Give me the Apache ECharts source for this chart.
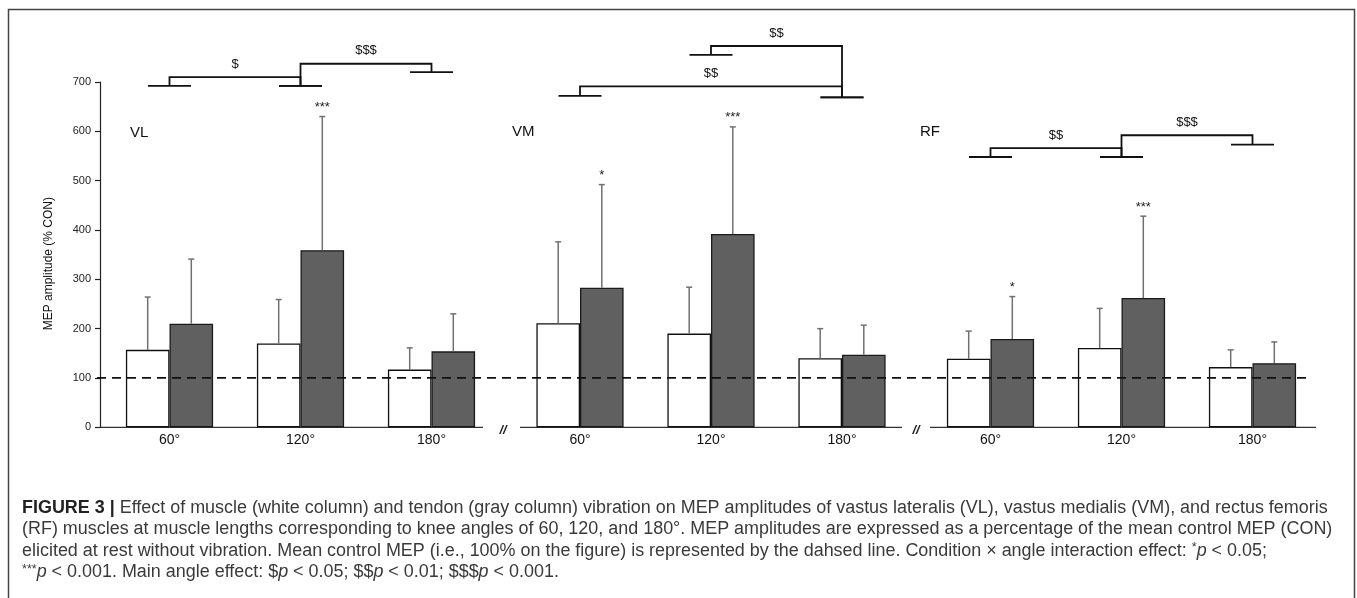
<!DOCTYPE html>
<html><head><meta charset="utf-8">
<script src="https://cdn.jsdelivr.net/npm/echarts@6/dist/echarts.min.js"></script>
<style>html,body{margin:0;padding:0;background:#fff}#c{width:1357px;height:598px}</style>
</head><body><div id="c"></div>
<script>
// ---------------- data ----------------
const categories = ['60°', '120°', '180°'];
const muscles = ['VL', 'VM', 'RF'];
const yTicksMax = 700;
const yTickStep = 100;
const controlLevel = 100;

// white column = muscle vibration, gray column = tendon vibration (mean, SD)
const vlMuscleMean = [157, 170, 117];
const vlMuscleSD   = [107, 89, 44];
const vlTendonMean = [210, 359, 154];
const vlTendonSD   = [131, 271, 76];

const vmMuscleMean = [211, 190, 140];
const vmMuscleSD   = [165, 94, 60];
const vmTendonMean = [283, 392, 147];
const vmTendonSD   = [209, 217, 60];

const rfMuscleMean = [139, 161, 122];
const rfMuscleSD   = [56, 80, 35];
const rfTendonMean = [179, 262, 130];
const rfTendonSD   = [86, 166, 43];

// interaction-effect stars on tendon columns
const vlStars = ['', '***', ''];
const vmStars = ['*', '***', ''];
const rfStars = ['*', '***', ''];

// main angle effect brackets: [fromCat, toCat, footFrom, footTo, top, label]
const vlBrackets = [[0, 1, 692, 692, 710, '$'], [1, 2, 692, 720, 737, '$$$']];
const vmBrackets = [[0, 2, 672, 669, 691, '$$'], [1, 2, 755, 669, 773, '$$']];
const rfBrackets = [[0, 1, 548, 548, 566, '$$'], [1, 2, 548, 573, 592, '$$$']];

// ---------------- layout / style ----------------
const FONT = "'Liberation Sans', Arial, sans-serif";
const GRID_TOP = 82, GRID_H = 345.3;
const GRID_LEFTS = [104, 514.5, 925];
const GRID_W = 393;
const BAR_W = 43.6;
const FOOT_W = 43;
const AXIS_SEGMENTS = [[100, 483], [520, 902], [930, 1316]];
const BREAKS = [503, 916];
const PANEL_LABEL_POS = [[130, 133], [512, 132], [920, 132]];

const panels = [
  {name: muscles[0], mM: vlMuscleMean, mS: vlMuscleSD, tM: vlTendonMean, tS: vlTendonSD, stars: vlStars, br: vlBrackets},
  {name: muscles[1], mM: vmMuscleMean, mS: vmMuscleSD, tM: vmTendonMean, tS: vmTendonSD, stars: vmStars, br: vmBrackets},
  {name: muscles[2], mM: rfMuscleMean, mS: rfMuscleSD, tM: rfTendonMean, tS: rfTendonSD, stars: rfStars, br: rfBrackets}
];

const grids = [], xAxes = [], yAxes = [], series = [];
panels.forEach((p, i) => {
  grids.push({left: GRID_LEFTS[i], width: GRID_W, top: GRID_TOP, height: GRID_H});
  xAxes.push({
    type: 'category', gridIndex: i, data: categories,
    axisLine: {show: false}, axisTick: {show: false},
    axisLabel: {fontFamily: FONT, fontSize: 14, color: '#111', margin: 6}
  });
  yAxes.push({
    type: 'value', gridIndex: i, min: 0, max: yTicksMax, interval: yTickStep,
    show: i === 0, offset: 4,
    splitLine: {show: false},
    axisLine: {show: true, lineStyle: {color: '#222', width: 1.2}},
    axisTick: {show: true, length: 5, lineStyle: {color: '#222', width: 1.2}},
    axisLabel: {fontFamily: FONT, fontSize: 11, color: '#222', margin: 9},
    name: i === 0 ? 'MEP amplitude (% CON)' : '',
    nameLocation: 'middle', nameGap: 45,
    nameTextStyle: {fontFamily: FONT, fontSize: 12, color: '#111', padding: [0, 18, 0, 0]}
  });
  series.push({
    type: 'bar', xAxisIndex: i, yAxisIndex: i, data: p.mM, barWidth: BAR_W, barGap: '0%',
    itemStyle: {color: '#ffffff', borderColor: '#111', borderWidth: 1.3}, silent: true, z: 2
  });
  series.push({
    type: 'bar', xAxisIndex: i, yAxisIndex: i, data: p.tM, barWidth: BAR_W, barGap: '0%',
    itemStyle: {color: '#606060', borderColor: '#1a1a1a', borderWidth: 1.3}, silent: true, z: 2
  });
  const errData = [];
  const errStars = [];
  p.mM.forEach((v, k) => { errData.push([k, v, p.mS[k], -1]); errStars.push(''); });
  p.tM.forEach((v, k) => { errData.push([k, v, p.tS[k], 1]); errStars.push(p.stars[k]); });
  series.push({
    type: 'custom', xAxisIndex: i, yAxisIndex: i, data: errData, clip: false, silent: true, z: 4,
    renderItem: function (params, api) {
      const cat = api.value(0), mean = api.value(1), sd = api.value(2), side = api.value(3);
      const b = api.coord([cat, mean]);
      const t = api.coord([cat, mean + sd]);
      const x = b[0] + side * BAR_W / 2;
      const st = {stroke: '#707070', lineWidth: 1.5};
      const ch = [
        {type: 'line', shape: {x1: x, y1: b[1], x2: x, y2: t[1]}, style: st},
        {type: 'line', shape: {x1: x - 3, y1: t[1], x2: x + 3, y2: t[1]}, style: st}
      ];
      const s = errStars[params.dataIndex];
      if (s) ch.push({type: 'text', style: {text: s, x: x, y: t[1] - 9, align: 'center', verticalAlign: 'middle',
        font: '13px ' + FONT, fill: '#222'}});
      return {type: 'group', children: ch};
    }
  });
  series.push({
    type: 'custom', xAxisIndex: i, yAxisIndex: i, data: p.br.map(r => r.slice(0, 5)), clip: false, silent: true, z: 5,
    renderItem: function (params, api) {
      const r = p.br[params.dataIndex];
      const A = api.coord([r[0], r[2]]), B = api.coord([r[1], r[3]]);
      const T = api.coord([r[0], r[4]])[1];
      const st = {stroke: '#111', lineWidth: 1.8, fill: 'none'};
      const hw = FOOT_W / 2;
      return {type: 'group', children: [
        {type: 'polyline', shape: {points: [[A[0], A[1]], [A[0], T], [B[0], T], [B[0], B[1]]]}, style: st},
        {type: 'line', shape: {x1: A[0] - hw, y1: A[1], x2: A[0] + hw, y2: A[1]}, style: st},
        {type: 'line', shape: {x1: B[0] - hw, y1: B[1], x2: B[0] + hw, y2: B[1]}, style: st},
        {type: 'text', style: {text: r[5], x: (A[0] + B[0]) / 2, y: T - 13, align: 'center', verticalAlign: 'middle',
          font: '13px ' + FONT, fill: '#111'}}
      ]};
    }
  });
});

// overlay grid for the control (100 %) dashed line
grids.push({left: 97, width: 1213, top: GRID_TOP, height: GRID_H});
xAxes.push({type: 'value', gridIndex: 3, min: 0, max: 1, show: false});
yAxes.push({type: 'value', gridIndex: 3, min: 0, max: yTicksMax, show: false});
series.push({
  type: 'line', xAxisIndex: 3, yAxisIndex: 3, data: [[0, controlLevel], [1, controlLevel]],
  symbol: 'none', silent: true, z: 6,
  lineStyle: {type: [9, 6], width: 1.8, color: '#111'}
});

// graphics: frame, axis baseline segments, breaks, panel labels, caption
const baseY = GRID_TOP + GRID_H;
const graphic = [];
graphic.push({type: 'rect', shape: {x: 8.5, y: 9.5, width: 1346, height: 640}, style: {fill: 'none', stroke: '#444', lineWidth: 1.5}, silent: true});
AXIS_SEGMENTS.forEach(s => graphic.push({type: 'line', shape: {x1: s[0], y1: baseY, x2: s[1], y2: baseY},
  style: {stroke: '#333', lineWidth: 1.3}, silent: true}));
BREAKS.forEach(x => graphic.push({type: 'text', style: {text: '//', x: x, y: baseY + 3, align: 'center', verticalAlign: 'middle',
  font: 'italic bold 13px ' + FONT, fill: '#222'}, silent: true}));
panels.forEach((p, i) => graphic.push({type: 'text', style: {text: p.name, x: PANEL_LABEL_POS[i][0], y: PANEL_LABEL_POS[i][1],
  align: 'left', verticalAlign: 'middle', font: '15px ' + FONT, fill: '#111'}, silent: true}));

// caption
const captionLines = [
  '{b|FIGURE 3 |} Effect of muscle (white column) and tendon (gray column) vibration on MEP amplitudes of vastus lateralis (VL), vastus medialis (VM), and rectus femoris',
  '(RF) muscles at muscle lengths corresponding to knee angles of 60, 120, and 180°. MEP amplitudes are expressed as a percentage of the mean control MEP (CON)',
  'elicited at rest without vibration. Mean control MEP (i.e., 100% on the figure) is represented by the dahsed line. Condition × angle interaction effect: {s|*}{i|p} < 0.05;',
  '{s|***}{i|p} < 0.001. Main angle effect: ${i|p} < 0.05; $${i|p} < 0.01; $$${i|p} < 0.001.'
];
const cv = document.createElement('canvas').getContext('2d');
cv.font = '15px ' + FONT;
const w2 = cv.measureText(captionLines[1]).width;
const capSize = 15 * 1311 / w2;
const capY = [508, 529.5, 551, 572.5];
captionLines.forEach((t, k) => graphic.push({type: 'text', silent: true, style: {
  text: t, x: 22, y: capY[k], align: 'left', verticalAlign: 'middle',
  fontFamily: FONT, fontSize: capSize, fill: '#3a3a3a',
  rich: {
    b: {fontFamily: FONT, fontSize: capSize, fontWeight: 'bold', fill: '#222'},
    i: {fontFamily: FONT, fontSize: capSize, fontStyle: 'italic', fill: '#3a3a3a'},
    s: {fontFamily: FONT, fontSize: capSize * 0.7, fill: '#3a3a3a', verticalAlign: 'top', padding: [0, 0, 6, 0]}
  }
}}));

const chart = echarts.init(document.getElementById('c'), null, {renderer: 'canvas'});
chart.setOption({
  animation: false,
  backgroundColor: '#fff',
  grid: grids, xAxis: xAxes, yAxis: yAxes, series: series, graphic: graphic
});
</script></body></html>
